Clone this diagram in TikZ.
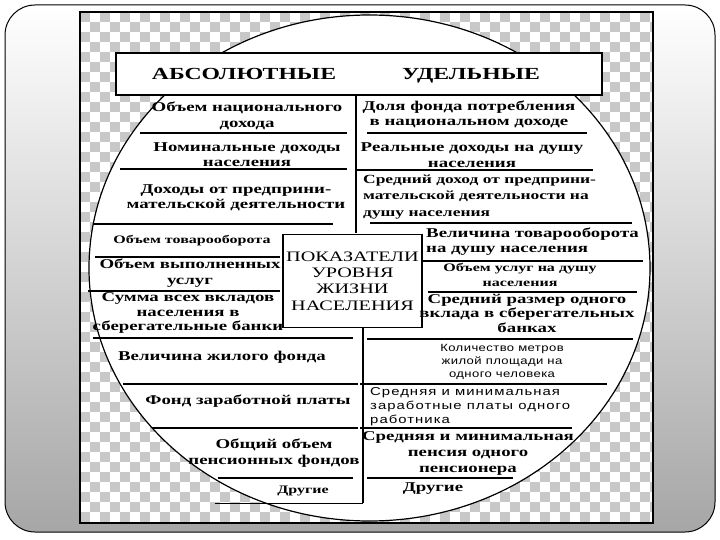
\documentclass[tikz,border=0pt]{standalone}
\usepackage{fontspec}
\setmainfont{Liberation Serif}
\newfontfamily\wideserif[FakeStretch=1.4]{Liberation Serif}
\newfontfamily\widesans[FakeStretch=1.25,LetterSpace=4]{Liberation Sans}
\newfontfamily\spacedsans[FakeStretch=1.3,LetterSpace=9]{Liberation Sans}
\usepackage{tikz}
\definecolor{CheckGray}{RGB}{200,200,200}
\definecolor{FrameGray}{RGB}{166,166,166}

\begin{document}
\begin{tikzpicture}[x=1bp, y=-1bp,
    item/.style={inner sep=0pt, align=center,
      font=\wideserif\bfseries\fontsize{13.5}{15.5}\selectfont},
    smallitem/.style={item, font=\wideserif\bfseries\fontsize{11.5}{15}\selectfont},
    thinitem/.style={inner sep=0pt, align=center,
      font=\widesans\fontsize{10.5}{13}\selectfont},
    head/.style={inner sep=0pt, anchor=base,
      font=\wideserif\bfseries\fontsize{17}{20}\selectfont},
    sep/.style={line width=1.3bp},
    thicksep/.style={line width=2.4bp}]
  \useasboundingbox (0,0) rectangle (720,540);
  % slide frame
  \shade[top color=white, bottom color=FrameGray, rounded corners=30bp]
    (5,5) rectangle (715,532);
  \draw[line width=1bp, rounded corners=30bp] (5,5) rectangle (715,532);
  % transparent background of the picture
  \fill[white] (80,12) rectangle (653,523);
  \begin{scope}
    \clip (80,12) rectangle (653,523);
    \foreach \cx in {80,100,...,640}
      \foreach \cy in {12,32,...,512} {
        \fill[CheckGray] (\cx,\cy) rectangle ++(10,10);
        \fill[CheckGray] (\cx+10,\cy+10) rectangle ++(10,10);
      }
  \end{scope}
  \draw[line width=2bp] (80,12) rectangle (653,523);
  \filldraw[fill=white, line width=1.2bp] (369.5,268) ellipse [x radius=280.5, y radius=253];

  % header
  \filldraw[fill=white, line width=1.2bp] (116,53) rectangle (602,95);
  \draw[line width=2.6bp] (117,95) -- (602,95) -- (602,54);
  \node[head] (habs) at (244,80) {АБСОЛЮТНЫЕ};
  \node[head] (hrel) at (471,80) {УДЕЛЬНЫЕ};

  % dividers
  \draw[sep] (356,95) -- (356,233);
  \draw[sep] (363,327) -- (363,503);
  \draw[line width=0.6bp] (215,503) -- (363,503);

  % centre
  \node[draw, fill=white, line width=1.2bp, inner sep=0pt,
        minimum width=139bp, minimum height=93bp, align=center,
        font=\wideserif\fontsize{14.5}{16.5}\selectfont]
        (title) at (352.5,281) {ПОКАЗАТЕЛИ\\УРОВНЯ\\ЖИЗНИ\\НАСЕЛЕНИЯ};

  % absolute indicators
  \node[item] (abs1) at (247,116) {Объем национального\\дохода};
  \draw[sep] (140,133) -- (347,133);
  \node[item] (abs2) at (247,154.5) {Номинальные доходы\\населения};
  \draw[sep] (120,169) -- (347,169);
  \node[item] (abs3) at (236,198) {Доходы от предприни-\\мательской деятельности};
  \draw[thicksep] (93,224) -- (333,224);
  \node[smallitem] (abs4) at (192,240.5) {Объем товарооборота};
  \draw[sep] (95,257) -- (280,257);
  \node[item] (abs5) at (190,273) {Объем выполненных\\услуг};
  \draw[thicksep] (88,291) -- (280,291);
  \node[item, font=\wideserif\bfseries\fontsize{13.5}{14.5}\selectfont]
    (abs6) at (188,313) {Сумма всех вкладов\\населения в\\сберегательные банки};
  \draw[sep] (93,338) -- (353,338);
  \node[item] (abs7) at (222,357.5) {Величина жилого фонда};
  \draw[sep] (123,384) -- (358,384);
  \node[item] (abs8) at (248,401.5) {Фонд заработной платы};
  \draw[sep] (152,428) -- (358,428);
  \node[item] (abs9) at (274,453) {Общий объем\\пенсионных фондов};
  \draw[sep] (218,478) -- (353,478);
  \node[smallitem] (abs10) at (303,490.5) {Другие};

  % specific indicators
  \node[item] (rel1) at (469,114.5) {Доля фонда потребления\\в национальном доходе};
  \draw[sep] (367,133) -- (587,133);
  \node[item] (rel2) at (472,155) {Реальные доходы на душу\\населения};
  \draw[sep] (357,170) -- (593,170);
  \node[item, align=left, anchor=west, font=\wideserif\bfseries\fontsize{12.5}{16.5}\selectfont]
    (rel3) at (363,197) {Средний доход от предприни-\\мательской деятельности на\\душу населения};
  \draw[thicksep] (370,223) -- (632,223);
  \node[item, align=left, anchor=west] (rel4) at (426,241.5)
    {Величина товарооборота\\на душу населения};
  \draw[sep] (422,261) -- (643,261);
  \node[smallitem] (rel5) at (520,275) {Объем услуг на душу\\населения};
  \draw[thicksep] (428,292) -- (637,292);
  \node[item, font=\wideserif\bfseries\fontsize{13.5}{14.5}\selectfont]
    (rel6) at (527,313) {Средний размер одного\\вклада в сберегательных\\банках};
  \draw[sep] (367,339) -- (633,339);
  \node[thinitem] (rel7) at (502,362) {Количество метров\\жилой площади на\\одного человека};
  \draw[sep] (360,384) -- (607,384);
  \node[thinitem, align=left, anchor=west, font=\spacedsans\fontsize{11.5}{14}\selectfont]
    (rel8) at (370,407) {Средняя и минимальная\\заработные платы одного\\работника};
  \draw[sep] (360,428) -- (572,428);
  \node[item, font=\wideserif\bfseries\fontsize{13.5}{16}\selectfont]
    (rel9) at (468,453.5) {Средняя и минимальная\\пенсия одного\\пенсионера};
  \draw[thicksep] (367,478) -- (513,478);
  \node[item] (rel10) at (433,488.5) {Другие};
\end{tikzpicture}
\end{document}
